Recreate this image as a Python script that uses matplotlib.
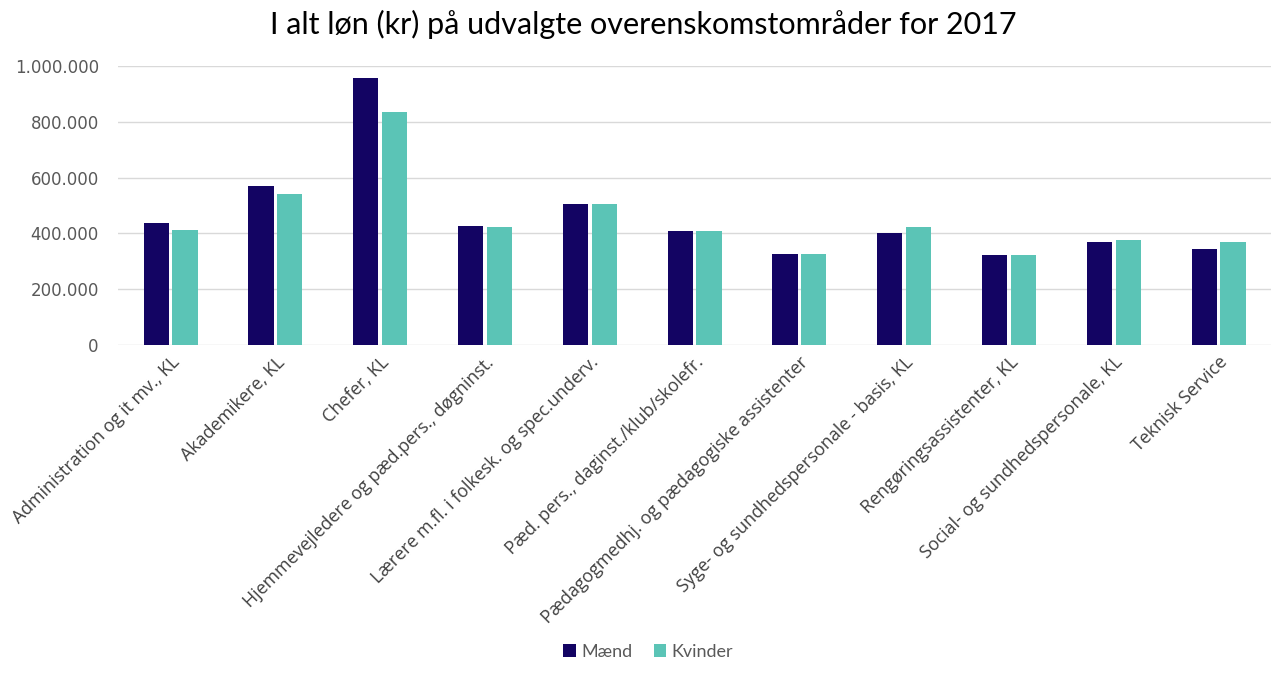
import numpy as np
import matplotlib.pyplot as plt
from matplotlib.ticker import FuncFormatter

plt.rcParams['font.family'] = ['Lato', 'DejaVu Sans']

categories = ['Administration og it mv., KL', 'Akademikere, KL', 'Chefer, KL',
              'Hjemmevejledere og pæd.pers., døgninst.',
              'Lærere m.fl. i folkesk. og spec.underv.',
              'Pæd. pers., daginst./klub/skolefr.',
              'Pædagogmedhj. og pædagogiske assistenter',
              'Syge- og sundhedspersonale - basis, KL',
              'Rengøringsassistenter, KL', 'Social- og sundhedspersonale, KL',
              'Teknisk Service']
maend = [436000, 571000, 958000, 427000, 505000, 409000, 326000, 401000, 323000, 368000, 343000]
kvinder = [411000, 540000, 836000, 422000, 505000, 409000, 326000, 422000, 321000, 378000, 368000]

fig = plt.figure(figsize=(12.71, 6.73), dpi=100)
ax = fig.add_axes([0.093, 0.4874, 0.907, 0.4145])

x = np.arange(len(categories))
w = 0.24
ax.bar(x - 0.138, maend, w, color='#130463', label='Mænd', zorder=3)
ax.bar(x + 0.138, kvinder, w, color='#5bc4b6', label='Kvinder', zorder=3)

ax.set_xlim(-0.5, len(categories) - 0.5)
ax.set_ylim(0, 1000000)
ax.set_yticks(np.arange(0, 1000001, 200000))
ax.yaxis.set_major_formatter(FuncFormatter(lambda v, p: f'{int(v):,}'.replace(',', '.')))
ax.grid(axis='y', color='#d9d9d9', linewidth=1, zorder=0)
ax.set_axisbelow(True)
for s in ax.spines.values():
    s.set_visible(False)
ax.tick_params(axis='both', length=0, colors='#595959')
ax.tick_params(axis='y', pad=14, labelsize=12, labelfontfamily='DejaVu Sans')
ax.tick_params(axis='x', pad=6)
ax.set_xticks(x)
ax.set_xticklabels(categories, rotation=45, ha='right', rotation_mode='anchor',
                   family=['Open Sans', 'DejaVu Sans'], fontsize=12.9, color='#404040')

fig.suptitle('I alt løn (kr) på udvalgte overenskomstområder for 2017',
             x=0.506, y=0.985, fontsize=22, color='#000000')

leg = fig.legend(loc='lower center', bbox_to_anchor=(0.51, -0.005), ncol=2, frameon=False,
                 fontsize=13, handlelength=0.7, handleheight=0.7, handletextpad=0.3,
                 columnspacing=1.2)
for t in leg.get_texts():
    t.set_color('#595959')

fig.savefig('out.png', dpi=100)
